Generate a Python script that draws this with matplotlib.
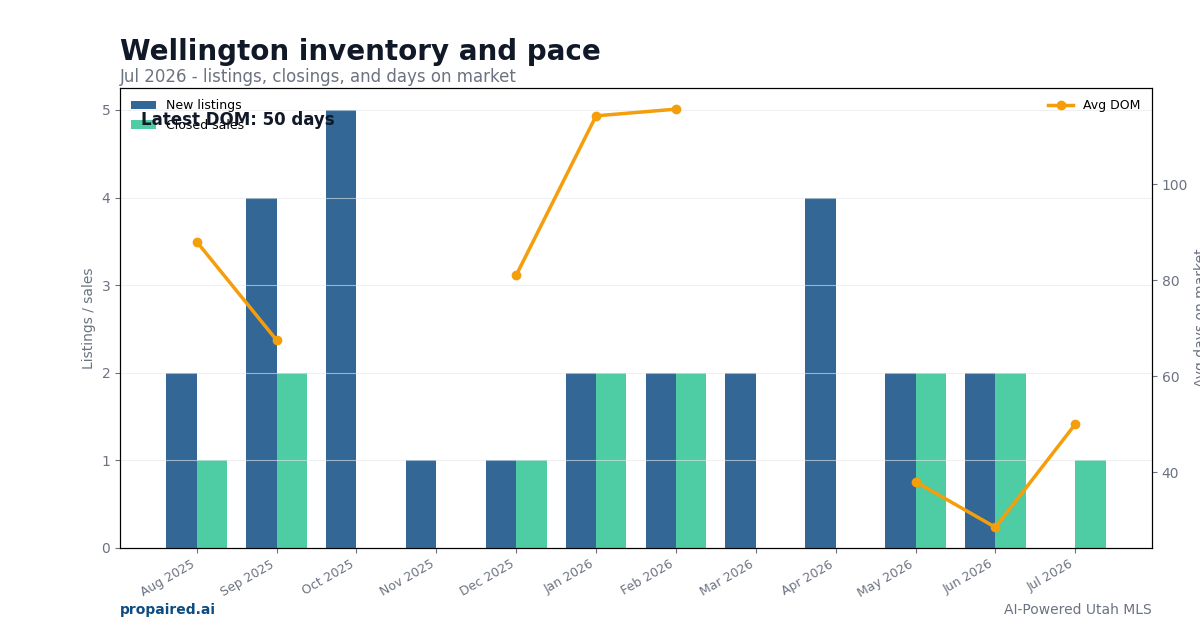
import matplotlib
matplotlib.use("Agg")
import matplotlib.pyplot as plt
import numpy as np

months = ["Aug 2025", "Sep 2025", "Oct 2025", "Nov 2025", "Dec 2025", "Jan 2026",
          "Feb 2026", "Mar 2026", "Apr 2026", "May 2026", "Jun 2026", "Jul 2026"]
new_listings = [2, 4, 5, 1, 1, 2, 2, 2, 4, 2, 2, 0]
closed_sales = [1, 2, 0, 0, 1, 2, 2, 0, 0, 2, 2, 1]
avg_dom = [88, 67.5, None, None, 81, 114.2, 115.6, None, None, 38, 28.5, 50]

GRAY = "#6b7280"
DARK = "#111827"

fig = plt.figure(figsize=(12, 6.3), dpi=100)
ax = fig.add_axes([0.1, 0.1302, 0.86, 0.7301])
ax2 = ax.twinx()

x = np.arange(len(months))
w = 0.38
ax.bar(x - w, new_listings, w, align="edge", color="#336796", label="New listings")
ax.bar(x, closed_sales, w, align="edge", color="#4ecca3", label="Closed sales")
ax.set_ylim(0, 5.25)
ax.set_xlim(-0.96, 11.96)
ax.set_xticks(x)
ax.set_xticklabels(months, rotation=30, ha="right", fontsize=9, color=GRAY)
ax.set_yticks([0, 1, 2, 3, 4, 5])
ax.tick_params(axis="y", labelsize=10, labelcolor=GRAY, color=GRAY)
ax.tick_params(axis="x", color=GRAY)
ax.set_ylabel("Listings / sales", color=GRAY, fontsize=10)
ax.grid(axis="y", color="#e5e7eb", alpha=0.6, linewidth=0.8)

dom = np.array([np.nan if v is None else v for v in avg_dom], dtype=float)
ax2.plot(x, dom, color="#f59e0b", linewidth=2.5, marker="o", markersize=6, label="Avg DOM")
ax2.set_ylim(24.2, 120)
ax2.set_yticks([40, 60, 80, 100])
ax2.tick_params(axis="y", labelsize=10, labelcolor=GRAY, color=GRAY)
ax2.set_ylabel("Avg days on market", color=GRAY, fontsize=10)

ax.legend(loc="upper left", frameon=False, fontsize=9)
ax2.legend(loc="upper right", frameon=False, fontsize=9)

ax.text(0.02, 0.949, "Latest DOM: 50 days", transform=ax.transAxes, fontsize=12,
        fontweight="bold", color=DARK, va="top", ha="left", zorder=10)

fig.text(0.1, 0.918, "Wellington inventory and pace", fontsize=20, fontweight="bold",
         color=DARK, va="center", ha="left")
fig.text(0.1, 0.877, "Jul 2026 - listings, closings, and days on market", fontsize=12,
         color=GRAY, va="center", ha="left")
fig.text(0.1, 0.032, "propaired.ai", fontsize=10, fontweight="bold", color="#0f4c81",
         va="center", ha="left")
fig.text(0.96, 0.032, "AI-Powered Utah MLS", fontsize=10, color=GRAY, va="center", ha="right")

fig.savefig("out.png", dpi=100)
